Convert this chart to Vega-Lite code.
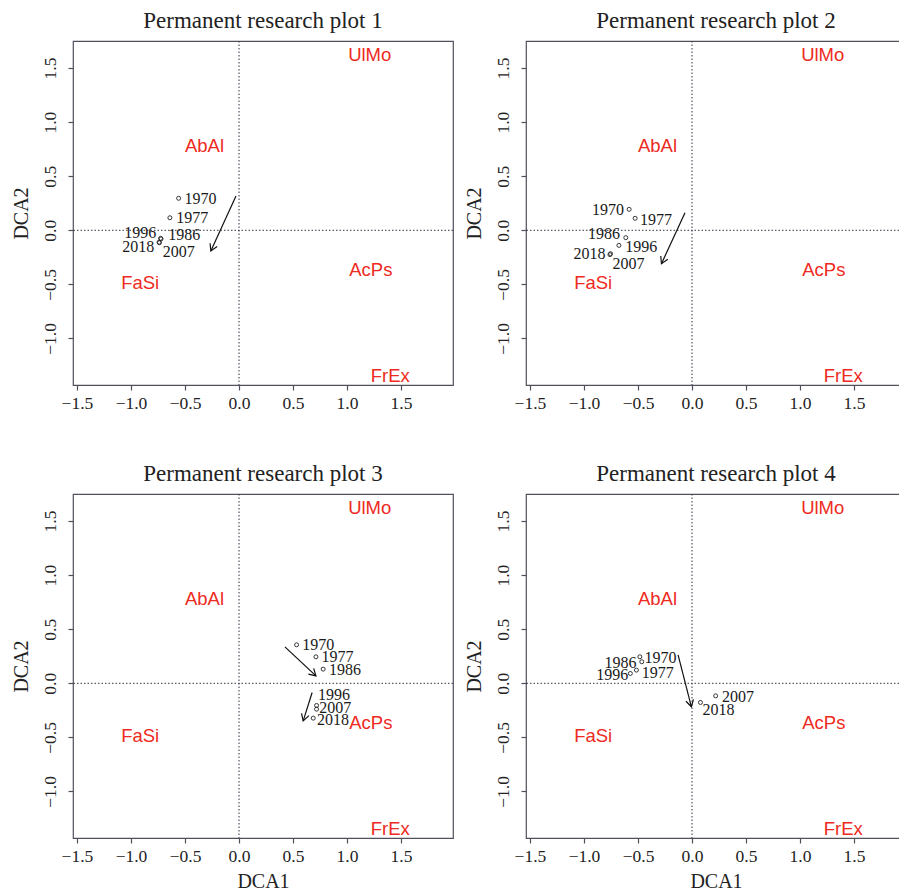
{
  "$schema": "https://vega.github.io/schema/vega-lite/v6.json",
  "background": "white",
  "padding": {"left": 10, "top": 8, "right": 0, "bottom": 0},
  "columns": 2,
  "spacing": {"row": 48, "column": 8},
  "datasets": {
    "species": [
      {"sp": "UlMo", "x": 1.21, "y": 1.62},
      {"sp": "AbAl", "x": -0.32, "y": 0.78},
      {"sp": "AcPs", "x": 1.22, "y": -0.37},
      {"sp": "FaSi", "x": -0.915, "y": -0.49},
      {"sp": "FrEx", "x": 1.40, "y": -1.35}
    ],
    "origin": [{"o": 0}],
    "years": [
      {"plot": 1, "year": "1970", "x": -0.559, "y": 0.296},
      {"plot": 1, "year": "1977", "x": -0.640, "y": 0.116},
      {"plot": 1, "year": "1986", "x": -0.726, "y": -0.074},
      {"plot": 1, "year": "1996", "x": -0.722, "y": -0.080},
      {"plot": 1, "year": "2007", "x": -0.737, "y": -0.115},
      {"plot": 1, "year": "2018", "x": -0.740, "y": -0.110},
      {"plot": 2, "year": "1970", "x": -0.582, "y": 0.194},
      {"plot": 2, "year": "1977", "x": -0.527, "y": 0.111},
      {"plot": 2, "year": "1986", "x": -0.613, "y": -0.068},
      {"plot": 2, "year": "1996", "x": -0.677, "y": -0.139},
      {"plot": 2, "year": "2007", "x": -0.760, "y": -0.225},
      {"plot": 2, "year": "2018", "x": -0.754, "y": -0.216},
      {"plot": 3, "year": "1970", "x": 0.533, "y": 0.356},
      {"plot": 3, "year": "1977", "x": 0.712, "y": 0.245},
      {"plot": 3, "year": "1986", "x": 0.779, "y": 0.131},
      {"plot": 3, "year": "1996", "x": 0.718, "y": -0.205},
      {"plot": 3, "year": "2007", "x": 0.718, "y": -0.239},
      {"plot": 3, "year": "2018", "x": 0.687, "y": -0.322},
      {"plot": 4, "year": "1970", "x": -0.483, "y": 0.245},
      {"plot": 4, "year": "1977", "x": -0.515, "y": 0.122},
      {"plot": 4, "year": "1986", "x": -0.465, "y": 0.199},
      {"plot": 4, "year": "1996", "x": -0.571, "y": 0.091},
      {"plot": 4, "year": "2007", "x": 0.219, "y": -0.116},
      {"plot": 4, "year": "2018", "x": 0.078, "y": -0.177}
    ],
    "labels": [
      {"plot": 1, "year": "1970", "x": -0.356, "y": 0.294},
      {"plot": 1, "year": "1977", "x": -0.434, "y": 0.116},
      {"plot": 1, "year": "1986", "x": -0.508, "y": -0.043},
      {"plot": 1, "year": "1996", "x": -0.915, "y": -0.022},
      {"plot": 1, "year": "2018", "x": -0.933, "y": -0.157},
      {"plot": 1, "year": "2007", "x": -0.559, "y": -0.201},
      {"plot": 2, "year": "1970", "x": -0.779, "y": 0.188},
      {"plot": 2, "year": "1977", "x": -0.334, "y": 0.095},
      {"plot": 2, "year": "1986", "x": -0.814, "y": -0.030},
      {"plot": 2, "year": "1996", "x": -0.471, "y": -0.157},
      {"plot": 2, "year": "2018", "x": -0.950, "y": -0.219},
      {"plot": 2, "year": "2007", "x": -0.587, "y": -0.314},
      {"plot": 3, "year": "1970", "x": 0.733, "y": 0.354},
      {"plot": 3, "year": "1977", "x": 0.912, "y": 0.247},
      {"plot": 3, "year": "1986", "x": 0.980, "y": 0.123},
      {"plot": 3, "year": "1996", "x": 0.880, "y": -0.108},
      {"plot": 3, "year": "2007", "x": 0.892, "y": -0.231},
      {"plot": 3, "year": "2018", "x": 0.869, "y": -0.336},
      {"plot": 4, "year": "1986", "x": -0.661, "y": 0.185},
      {"plot": 4, "year": "1970", "x": -0.291, "y": 0.231},
      {"plot": 4, "year": "1996", "x": -0.738, "y": 0.077},
      {"plot": 4, "year": "1977", "x": -0.317, "y": 0.097},
      {"plot": 4, "year": "2007", "x": 0.425, "y": -0.131},
      {"plot": 4, "year": "2018", "x": 0.244, "y": -0.247}
    ],
    "arrows": [
      {"plot": 1, "arrow": "a", "x": -0.028, "y": 0.317, "x2": -0.261, "y2": -0.191},
      {"plot": 2, "arrow": "a", "x": -0.065, "y": 0.163, "x2": -0.283, "y2": -0.309},
      {"plot": 3, "arrow": "a", "x": 0.425, "y": 0.337, "x2": 0.712, "y2": 0.069},
      {"plot": 3, "arrow": "b", "x": 0.677, "y": -0.085, "x2": 0.594, "y2": -0.347},
      {"plot": 4, "arrow": "a", "x": -0.129, "y": 0.263, "x2": -0.006, "y2": -0.217}
    ]
  },
  "config": {
    "view": {"stroke": "#50505e", "strokeWidth": 1.2},
    "axis": {"domain": false, "grid": false, "ticks": true, "tickColor": "#50505e", "tickSize": 5, "tickWidth": 1.2, "labelFont": "Liberation Serif", "labelFontSize": 17.5, "labelColor": "#222222", "titleFont": "Liberation Serif", "titleFontSize": 20, "titleFontWeight": "normal", "titleColor": "#222222"},
    "axisX": {"labelPadding": 4, "titlePadding": 7},
    "axisY": {"labelAngle": -90, "labelAlign": "center", "labelBaseline": "alphabetic", "labelPadding": 13, "minExtent": 35, "maxExtent": 35, "titlePadding": 7},
    "title": {"font": "Liberation Serif", "fontSize": 23, "fontWeight": "normal", "color": "#222222", "offset": 8}
  },
  "concat": [
    {
      "title": "Permanent research plot 1",
      "width": 380, "height": 344,
      "layer": [
        {"data": {"name": "species"}, "mark": {"type": "text", "font": "Liberation Sans", "fontSize": 18.5, "color": "#ee2a22"},
         "encoding": {"x": {"field": "x", "type": "quantitative", "title": null, "scale": {"domain": [-1.537, 1.981], "nice": false, "zero": false}, "axis": {"values": [-1.5, -1, -0.5, 0, 0.5, 1, 1.5], "format": ".1f"}},
                      "y": {"field": "y", "type": "quantitative", "title": "DCA2", "scale": {"domain": [-1.43, 1.75], "nice": false, "zero": false}, "axis": {"values": [-1, -0.5, 0, 0.5, 1, 1.5], "format": ".1f"}},
                      "text": {"field": "sp"}}},
        {"data": {"name": "origin"}, "mark": {"type": "rule", "strokeDash": [1.5, 2], "color": "#333344", "strokeWidth": 1}, "encoding": {"x": {"field": "o", "type": "quantitative", "title": null}}},
        {"data": {"name": "origin"}, "mark": {"type": "rule", "strokeDash": [1.5, 2], "color": "#333344", "strokeWidth": 1}, "encoding": {"y": {"field": "o", "type": "quantitative", "title": "DCA2"}}},
        {"data": {"name": "years"}, "transform": [{"filter": "datum.plot == 1"}], "mark": {"type": "point", "shape": "circle", "size": 16, "filled": false, "color": "#222222", "strokeWidth": 0.9, "opacity": 1},
         "encoding": {"x": {"field": "x", "type": "quantitative", "title": null}, "y": {"field": "y", "type": "quantitative", "title": "DCA2"}}},
        {"data": {"name": "labels"}, "transform": [{"filter": "datum.plot == 1"}], "mark": {"type": "text", "font": "Liberation Serif", "fontSize": 16, "color": "#1a1a1a"},
         "encoding": {"x": {"field": "x", "type": "quantitative", "title": null}, "y": {"field": "y", "type": "quantitative", "title": "DCA2"}, "text": {"field": "year"}}},
        {"data": {"name": "arrows"}, "transform": [{"filter": "datum.plot == 1"}], "mark": {"type": "rule", "color": "#111111", "strokeWidth": 1.2},
         "encoding": {"x": {"field": "x", "type": "quantitative", "title": null}, "y": {"field": "y", "type": "quantitative", "title": "DCA2"}, "x2": {"field": "x2"}, "y2": {"field": "y2"}}},
        {"data": {"name": "arrows"}, "transform": [{"filter": "datum.plot == 1 && datum.arrow == 'a'"}], "mark": {"type": "point", "shape": "M -1 -0.577 L 0 0 L -1 0.577", "angle": 114.6, "size": 180, "filled": false, "color": "#111111", "strokeWidth": 1.2, "opacity": 1},
         "encoding": {"x": {"field": "x2", "type": "quantitative", "title": null}, "y": {"field": "y2", "type": "quantitative", "title": "DCA2"}}}
      ]
    },
    {
      "title": "Permanent research plot 2",
      "width": 380, "height": 344,
      "layer": [
        {"data": {"name": "species"}, "mark": {"type": "text", "font": "Liberation Sans", "fontSize": 18.5, "color": "#ee2a22"},
         "encoding": {"x": {"field": "x", "type": "quantitative", "title": null, "scale": {"domain": [-1.537, 1.981], "nice": false, "zero": false}, "axis": {"values": [-1.5, -1, -0.5, 0, 0.5, 1, 1.5], "format": ".1f"}},
                      "y": {"field": "y", "type": "quantitative", "title": "DCA2", "scale": {"domain": [-1.43, 1.75], "nice": false, "zero": false}, "axis": {"values": [-1, -0.5, 0, 0.5, 1, 1.5], "format": ".1f"}},
                      "text": {"field": "sp"}}},
        {"data": {"name": "origin"}, "mark": {"type": "rule", "strokeDash": [1.5, 2], "color": "#333344", "strokeWidth": 1}, "encoding": {"x": {"field": "o", "type": "quantitative", "title": null}}},
        {"data": {"name": "origin"}, "mark": {"type": "rule", "strokeDash": [1.5, 2], "color": "#333344", "strokeWidth": 1}, "encoding": {"y": {"field": "o", "type": "quantitative", "title": "DCA2"}}},
        {"data": {"name": "years"}, "transform": [{"filter": "datum.plot == 2"}], "mark": {"type": "point", "shape": "circle", "size": 16, "filled": false, "color": "#222222", "strokeWidth": 0.9, "opacity": 1},
         "encoding": {"x": {"field": "x", "type": "quantitative", "title": null}, "y": {"field": "y", "type": "quantitative", "title": "DCA2"}}},
        {"data": {"name": "labels"}, "transform": [{"filter": "datum.plot == 2"}], "mark": {"type": "text", "font": "Liberation Serif", "fontSize": 16, "color": "#1a1a1a"},
         "encoding": {"x": {"field": "x", "type": "quantitative", "title": null}, "y": {"field": "y", "type": "quantitative", "title": "DCA2"}, "text": {"field": "year"}}},
        {"data": {"name": "arrows"}, "transform": [{"filter": "datum.plot == 2"}], "mark": {"type": "rule", "color": "#111111", "strokeWidth": 1.2},
         "encoding": {"x": {"field": "x", "type": "quantitative", "title": null}, "y": {"field": "y", "type": "quantitative", "title": "DCA2"}, "x2": {"field": "x2"}, "y2": {"field": "y2"}}},
        {"data": {"name": "arrows"}, "transform": [{"filter": "datum.plot == 2 && datum.arrow == 'a'"}], "mark": {"type": "point", "shape": "M -1 -0.577 L 0 0 L -1 0.577", "angle": 114.8, "size": 180, "filled": false, "color": "#111111", "strokeWidth": 1.2, "opacity": 1},
         "encoding": {"x": {"field": "x2", "type": "quantitative", "title": null}, "y": {"field": "y2", "type": "quantitative", "title": "DCA2"}}}
      ]
    },
    {
      "title": "Permanent research plot 3",
      "width": 380, "height": 344,
      "layer": [
        {"data": {"name": "species"}, "mark": {"type": "text", "font": "Liberation Sans", "fontSize": 18.5, "color": "#ee2a22"},
         "encoding": {"x": {"field": "x", "type": "quantitative", "title": "DCA1", "scale": {"domain": [-1.537, 1.981], "nice": false, "zero": false}, "axis": {"values": [-1.5, -1, -0.5, 0, 0.5, 1, 1.5], "format": ".1f"}},
                      "y": {"field": "y", "type": "quantitative", "title": "DCA2", "scale": {"domain": [-1.43, 1.75], "nice": false, "zero": false}, "axis": {"values": [-1, -0.5, 0, 0.5, 1, 1.5], "format": ".1f"}},
                      "text": {"field": "sp"}}},
        {"data": {"name": "origin"}, "mark": {"type": "rule", "strokeDash": [1.5, 2], "color": "#333344", "strokeWidth": 1}, "encoding": {"x": {"field": "o", "type": "quantitative", "title": "DCA1"}}},
        {"data": {"name": "origin"}, "mark": {"type": "rule", "strokeDash": [1.5, 2], "color": "#333344", "strokeWidth": 1}, "encoding": {"y": {"field": "o", "type": "quantitative", "title": "DCA2"}}},
        {"data": {"name": "years"}, "transform": [{"filter": "datum.plot == 3"}], "mark": {"type": "point", "shape": "circle", "size": 16, "filled": false, "color": "#222222", "strokeWidth": 0.9, "opacity": 1},
         "encoding": {"x": {"field": "x", "type": "quantitative", "title": "DCA1"}, "y": {"field": "y", "type": "quantitative", "title": "DCA2"}}},
        {"data": {"name": "labels"}, "transform": [{"filter": "datum.plot == 3"}], "mark": {"type": "text", "font": "Liberation Serif", "fontSize": 16, "color": "#1a1a1a"},
         "encoding": {"x": {"field": "x", "type": "quantitative", "title": "DCA1"}, "y": {"field": "y", "type": "quantitative", "title": "DCA2"}, "text": {"field": "year"}}},
        {"data": {"name": "arrows"}, "transform": [{"filter": "datum.plot == 3"}], "mark": {"type": "rule", "color": "#111111", "strokeWidth": 1.2},
         "encoding": {"x": {"field": "x", "type": "quantitative", "title": "DCA1"}, "y": {"field": "y", "type": "quantitative", "title": "DCA2"}, "x2": {"field": "x2"}, "y2": {"field": "y2"}}},
        {"data": {"name": "arrows"}, "transform": [{"filter": "datum.plot == 3 && datum.arrow == 'a'"}], "mark": {"type": "point", "shape": "M -1 -0.577 L 0 0 L -1 0.577", "angle": 43.0, "size": 180, "filled": false, "color": "#111111", "strokeWidth": 1.2, "opacity": 1},
         "encoding": {"x": {"field": "x2", "type": "quantitative", "title": "DCA1"}, "y": {"field": "y2", "type": "quantitative", "title": "DCA2"}}},
        {"data": {"name": "arrows"}, "transform": [{"filter": "datum.plot == 3 && datum.arrow == 'b'"}], "mark": {"type": "point", "shape": "M -1 -0.577 L 0 0 L -1 0.577", "angle": 107.6, "size": 180, "filled": false, "color": "#111111", "strokeWidth": 1.2, "opacity": 1},
         "encoding": {"x": {"field": "x2", "type": "quantitative", "title": "DCA1"}, "y": {"field": "y2", "type": "quantitative", "title": "DCA2"}}}
      ]
    },
    {
      "title": "Permanent research plot 4",
      "width": 380, "height": 344,
      "layer": [
        {"data": {"name": "species"}, "mark": {"type": "text", "font": "Liberation Sans", "fontSize": 18.5, "color": "#ee2a22"},
         "encoding": {"x": {"field": "x", "type": "quantitative", "title": "DCA1", "scale": {"domain": [-1.537, 1.981], "nice": false, "zero": false}, "axis": {"values": [-1.5, -1, -0.5, 0, 0.5, 1, 1.5], "format": ".1f"}},
                      "y": {"field": "y", "type": "quantitative", "title": "DCA2", "scale": {"domain": [-1.43, 1.75], "nice": false, "zero": false}, "axis": {"values": [-1, -0.5, 0, 0.5, 1, 1.5], "format": ".1f"}},
                      "text": {"field": "sp"}}},
        {"data": {"name": "origin"}, "mark": {"type": "rule", "strokeDash": [1.5, 2], "color": "#333344", "strokeWidth": 1}, "encoding": {"x": {"field": "o", "type": "quantitative", "title": "DCA1"}}},
        {"data": {"name": "origin"}, "mark": {"type": "rule", "strokeDash": [1.5, 2], "color": "#333344", "strokeWidth": 1}, "encoding": {"y": {"field": "o", "type": "quantitative", "title": "DCA2"}}},
        {"data": {"name": "years"}, "transform": [{"filter": "datum.plot == 4"}], "mark": {"type": "point", "shape": "circle", "size": 16, "filled": false, "color": "#222222", "strokeWidth": 0.9, "opacity": 1},
         "encoding": {"x": {"field": "x", "type": "quantitative", "title": "DCA1"}, "y": {"field": "y", "type": "quantitative", "title": "DCA2"}}},
        {"data": {"name": "labels"}, "transform": [{"filter": "datum.plot == 4"}], "mark": {"type": "text", "font": "Liberation Serif", "fontSize": 16, "color": "#1a1a1a"},
         "encoding": {"x": {"field": "x", "type": "quantitative", "title": "DCA1"}, "y": {"field": "y", "type": "quantitative", "title": "DCA2"}, "text": {"field": "year"}}},
        {"data": {"name": "arrows"}, "transform": [{"filter": "datum.plot == 4"}], "mark": {"type": "rule", "color": "#111111", "strokeWidth": 1.2},
         "encoding": {"x": {"field": "x", "type": "quantitative", "title": "DCA1"}, "y": {"field": "y", "type": "quantitative", "title": "DCA2"}, "x2": {"field": "x2"}, "y2": {"field": "y2"}}},
        {"data": {"name": "arrows"}, "transform": [{"filter": "datum.plot == 4 && datum.arrow == 'a'"}], "mark": {"type": "point", "shape": "M -1 -0.577 L 0 0 L -1 0.577", "angle": 75.6, "size": 180, "filled": false, "color": "#111111", "strokeWidth": 1.2, "opacity": 1},
         "encoding": {"x": {"field": "x2", "type": "quantitative", "title": "DCA1"}, "y": {"field": "y2", "type": "quantitative", "title": "DCA2"}}}
      ]
    }
  ]
}
